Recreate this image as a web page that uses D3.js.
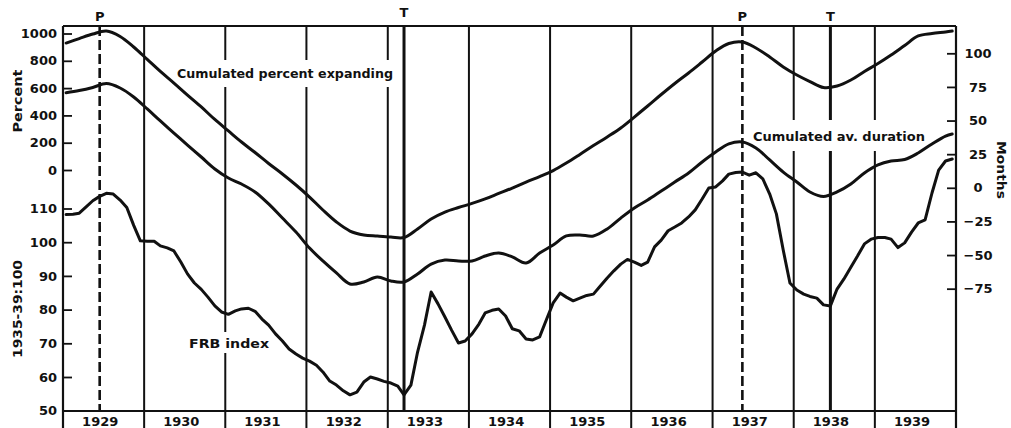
<!DOCTYPE html>
<html><head><meta charset="utf-8">
<script src="https://cdn.jsdelivr.net/npm/d3@7/dist/d3.min.js"></script>
<style>
body{margin:0;background:#fff}
text{font-family:"DejaVu Sans",sans-serif;font-weight:bold;fill:#111}
</style>
</head><body>
<svg id="chart" width="1011" height="428"></svg>
<script>
// ---------------- DATA ----------------
const years = [1929,1930,1931,1932,1933,1934,1935,1936,1937,1938,1939];

// FRB index of industrial production (1935-39 = 100), monthly Jan 1929 - Dec 1939
const frbIndex = [
  108.2,108.3,108.6,110.5,112.3,113.6,114.5,114.3,112.5,110.3,105.0,100.4,
  100.3,100.3,98.9,98.3,97.4,94.1,90.6,87.9,86.0,83.7,81.1,79.3,
  78.6,79.6,80.2,80.4,79.5,77.2,75.4,72.8,70.7,68.3,66.8,65.6,
  64.7,63.5,61.5,58.8,57.6,55.9,54.7,55.5,58.5,60.0,59.4,58.7,
  58.2,57.3,54.7,57.6,67.4,75.4,85.2,81.7,77.8,73.9,70.1,70.7,
  72.8,75.7,79.0,79.8,80.2,78.1,74.3,73.7,71.3,71.0,71.9,76.9,
  82.0,84.9,83.7,82.6,83.4,84.2,84.6,87.0,89.4,91.5,93.5,94.9,
  94.1,93.1,94.1,98.6,100.6,103.4,104.5,105.7,107.5,109.6,112.8,116.1,
  116.4,118.2,120.2,120.7,120.8,119.9,120.6,118.8,114.3,108.4,97.6,87.9,
  85.8,84.6,83.9,83.4,81.4,81.1,86.1,89.1,92.6,95.9,99.5,100.9,
  101.4,101.4,100.9,98.4,99.8,103.0,105.7,106.6,114.6,121.4,124.1,124.7
];

// month offsets (from Jan 1929) at which the two cumulated series were read
const cumMonthIdx = [
  0,2,4,6,8,10,12,14,16,18,20,22,24,26,28,30,32,34,36,38,40,42,44,46,48,50,
  52,54,56,58,60,62,64,66,68,70,72,74,76,78,80,82,84,86,88,90,92,94,96,98,
  100,102,104,106,108,110,112,114,116,118,120,122,124,126,128,130,131
];

// Cumulated percent expanding (Percent, left upper scale)
const cumPercentExpanding = [
  930,963,996,1018,978,901,810,722,637,549,462,370,286,205,128,48,-29,-110,
  -198,-293,-381,-447,-476,-484,-491,-495,-432,-359,-308,-275,-245,-212,-172,
  -132,-88,-48,-4,51,114,179,242,308,388,469,553,634,711,791,872,927,938,894,
  828,755,696,648,604,615,659,722,780,842,912,982,1000,1011,1018
];

// Cumulated average duration (Months, right scale)
const cumAvDuration = [
  70.7,72.3,74.6,77.5,74.2,67.5,58.6,49.7,40.7,31.8,22.9,14.0,7.3,2.8,-3.1,
  -12.0,-22.5,-32.9,-44.8,-54.4,-63.3,-71.5,-70.0,-66.3,-69.3,-70.0,-64.1,
  -56.7,-53.7,-54.4,-54.4,-50.7,-48.5,-51.4,-55.9,-48.5,-42.5,-35.8,-35.1,
  -35.8,-30.6,-22.5,-15.0,-9.1,-2.4,4.3,11.0,19.2,26.6,32.6,34.1,29.6,20.7,
  11.7,4.3,-3.1,-6.5,-3.1,2.8,11.0,17.0,19.9,21.0,25.9,32.6,38.5,40.0
];

// reference turning points: P = peak, T = trough (year, month index 0-11)
const turnLabels = ["P","T","P","T"];
const turnYears  = [1929,1933,1937,1938];
const turnMonths = [5,2,4,5];

const percentTicks = [0,200,400,600,800,1000];
const frbTicks = [50,60,70,80,90,100,110];
const monthTicks = [-75,-50,-25,0,25,50,75,100];

// ---------------- LAYOUT ----------------
const svg = d3.select("#chart");
const L = 63, R = 956, T = 26, B = 411;

const x = d3.scaleTime().domain([new Date(1929,0,1), new Date(1940,0,1)]).range([L, R]);
const yPct = d3.scaleLinear().domain([0,1000]).range([170,33.5]);
const yMon = d3.scaleLinear().domain([0,100]).range([187.8,53.3]);
const yFrb = d3.scaleLinear().domain([50,110]).range([410.7,208.5]);
const mdate = m => new Date(1929, m, 15);

// year dividers (extend below axis)
svg.append("g").selectAll("line").data(years.slice(1)).join("line")
  .attr("x1", d => x(new Date(d,0,1))).attr("x2", d => x(new Date(d,0,1)))
  .attr("y1", T).attr("y2", 428)
  .attr("stroke", "#111").attr("stroke-width", 2);

// turning point lines
turnLabels.forEach((lab, i) => {
  const xx = x(new Date(turnYears[i], turnMonths[i], 15));
  svg.append("line").attr("x1", xx).attr("x2", xx).attr("y1", T).attr("y2", B)
    .attr("stroke", "#111")
    .attr("stroke-width", lab === "P" ? 2.6 : 3)
    .attr("stroke-dasharray", lab === "P" ? "10,4" : null);
  svg.append("text").attr("x", xx).attr("y", lab === "T" && i === 1 ? 17 : 21)
    .attr("text-anchor", "middle").style("font-size", "13px").text(lab);
});

// frame
svg.append("line").attr("x1", L).attr("x2", L).attr("y1", T).attr("y2", 428).attr("stroke","#111").attr("stroke-width",2.2);
svg.append("line").attr("x1", R).attr("x2", R).attr("y1", T).attr("y2", 428).attr("stroke","#111").attr("stroke-width",2.2);
svg.append("line").attr("x1", L).attr("x2", R).attr("y1", T).attr("y2", T).attr("stroke","#111").attr("stroke-width",2.2);
svg.append("line").attr("x1", L).attr("x2", R).attr("y1", B).attr("y2", B).attr("stroke","#111").attr("stroke-width",2.2);

// knock-outs behind series labels
const knock = [[175,60,222,27],[749,120,181,31],[186,332,87,21]];
svg.append("g").selectAll("rect").data(knock).join("rect")
  .attr("x", d => d[0]).attr("y", d => d[1]).attr("width", d => d[2]).attr("height", d => d[3])
  .attr("fill", "#fff");

// axes
function styleAxis(g){
  g.select(".domain").remove();
  g.selectAll(".tick line").attr("stroke","#111").attr("stroke-width",1.8);
  g.selectAll(".tick text").style("font-size","13px").style("font-family","DejaVu Sans").style("font-weight","bold").attr("fill","#111");
}
svg.append("g").attr("transform", `translate(${L},0)`)
  .call(d3.axisLeft(yPct).tickValues(percentTicks).tickSize(-9).tickPadding(6).tickFormat(d3.format("d")))
  .call(styleAxis);
svg.append("g").attr("transform", `translate(${L},0)`)
  .call(d3.axisLeft(yFrb).tickValues(frbTicks).tickSize(-9).tickPadding(6).tickFormat(d3.format("d")))
  .call(styleAxis)
  .call(g => g.selectAll(".tick").filter(d => d === 50).select("line").remove());
svg.append("g").attr("transform", `translate(${R},0)`)
  .call(d3.axisRight(yMon).tickValues(monthTicks).tickSize(-9).tickPadding(6))
  .call(styleAxis)
  .call(g => g.selectAll(".tick text").attr("text-anchor","middle").attr("x", 22));
svg.append("g").attr("transform", `translate(0,${B})`)
  .call(d3.axisBottom(x).tickValues(years.map(y => new Date(y,5,15))).tickSize(0).tickPadding(6).tickFormat(d3.timeFormat("%Y")))
  .call(styleAxis);

// series
const smooth = d3.line().curve(d3.curveCatmullRom.alpha(0.5));
svg.append("path")
  .attr("d", smooth(cumMonthIdx.map((m,i) => [x(mdate(m)), yPct(cumPercentExpanding[i])])))
  .attr("fill","none").attr("stroke","#111").attr("stroke-width",3).attr("stroke-linejoin","round").attr("stroke-linecap","round");
svg.append("path")
  .attr("d", smooth(cumMonthIdx.map((m,i) => [x(mdate(m)), yMon(cumAvDuration[i])])))
  .attr("fill","none").attr("stroke","#111").attr("stroke-width",3).attr("stroke-linejoin","round").attr("stroke-linecap","round");
svg.append("path")
  .attr("d", d3.line()(frbIndex.map((v,m) => [x(mdate(m)), yFrb(v)])))
  .attr("fill","none").attr("stroke","#111").attr("stroke-width",3).attr("stroke-linejoin","round").attr("stroke-linecap","round");

// series labels
function lab(txt, x0, yb, len){
  svg.append("text").attr("x", x0).attr("y", yb).style("font-size","13px")
    .attr("textLength", len).attr("lengthAdjust","spacingAndGlyphs").text(txt);
}
lab("Cumulated percent expanding", 177, 78, 216);
lab("Cumulated av. duration", 753, 141, 172);
lab("FRB index", 189, 348, 80);

// axis titles
svg.append("text").attr("transform","translate(22,101) rotate(-90)").attr("text-anchor","middle")
  .style("font-size","13px").attr("textLength",63).attr("lengthAdjust","spacingAndGlyphs").text("Percent");
svg.append("text").attr("transform","translate(22,309) rotate(-90)").attr("text-anchor","middle")
  .style("font-size","13px").attr("textLength",98).attr("lengthAdjust","spacingAndGlyphs").text("1935-39:100");
svg.append("text").attr("transform","translate(997,170) rotate(90)").attr("text-anchor","middle")
  .style("font-size","12.5px").attr("textLength",58).attr("lengthAdjust","spacingAndGlyphs").text("Months");
</script>
</body></html>
